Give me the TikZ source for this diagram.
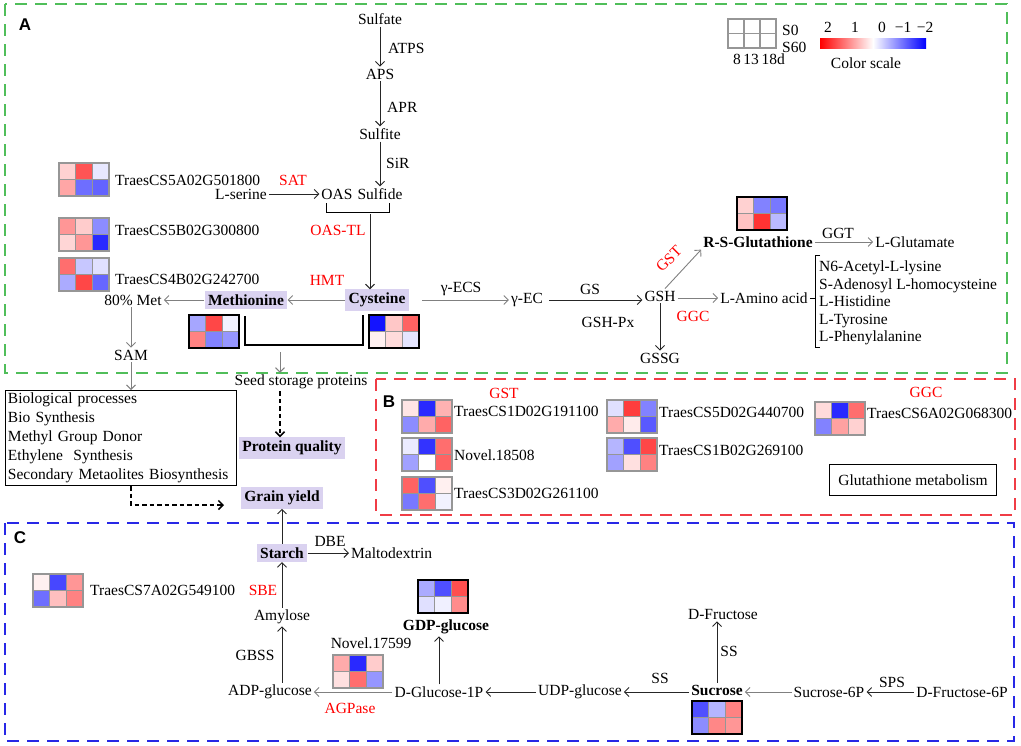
\documentclass[tikz,border=0pt]{standalone}
\usepackage{fontspec}
\setmainfont{Liberation Serif}
\newfontfamily\labfont{Liberation Sans}
\usetikzlibrary{arrows.meta}
\definecolor{lav}{RGB}{218,210,240}
\definecolor{gridc}{RGB}{150,150,150}
\definecolor{gzone}{RGB}{80,190,90}
\definecolor{rzone}{RGB}{240,60,70}
\definecolor{bzone}{RGB}{40,40,230}
\newcommand{\myfs}{\fontsize{15.5}{19}\selectfont}
\newcommand{\heatm}[9]{%
 \begin{scope}[shift={(#1,#2)}]
 \fill[#4] (0,0) rectangle (16.67,16.5);
 \fill[#5] (16.67,0) rectangle (33.33,16.5);
 \fill[#6] (33.33,0) rectangle (50,16.5);
 \fill[#7] (0,16.5) rectangle (16.67,33);
 \fill[#8] (16.67,16.5) rectangle (33.33,33);
 \fill[#9] (33.33,16.5) rectangle (50,33);
 \draw[gridc,line width=1.5pt] (16.67,0)--(16.67,33) (33.33,0)--(33.33,33) (0,16.5)--(50,16.5);
 \draw[#3] (0,0) rectangle (50,33);
 \end{scope}}
\tikzset{
 txt/.style={font=\myfs, inner sep=2pt},
 redtxt/.style={txt, text=red},
 boldtxt/.style={txt, font=\myfs\bfseries},
 lavbox/.style={boldtxt, fill=lav, inner sep=3.5pt},
 arr/.style={draw=black!85, line width=0.9pt, -{Straight Barb[length=4.5pt,width=9pt]}},
 garr/.style={arr, draw=black!50},
 darr/.style={arr, draw=black, line width=1.5pt, dash pattern=on 4.5pt off 3pt},
 thinhm/.style={draw=gridc, line width=1.6pt},
 thickhm/.style={draw=black, line width=2.6pt},
 zone/.style={line width=1.5pt, dash pattern=on 12pt off 8pt},
 panellab/.style={font=\labfont\bfseries\fontsize{17}{20}\selectfont},
}
\begin{document}
\begin{tikzpicture}[x=1pt,y=-1pt, every node/.style={txt}]
\useasboundingbox (0,0) rectangle (1021,745);
% zones
\draw[zone, gzone] (5,4) rectangle (1007,373);
\draw[zone, rzone] (376,379) rectangle (1015,515);
\draw[zone, bzone] (5,523) rectangle (1014,741);
\node[panellab] (labA) at (25,25) {A};
\node[panellab] (labB) at (389,402) {B};
\node[panellab] (labC) at (20,538) {C};

% legend
\draw[gridc,line width=1.2pt] (728,19) rectangle (776,48) (744,19)--(744,48) (760,19)--(760,48) (728,33.5)--(776,33.5);
\node[anchor=west] (s0) at (780,30) {S0};
\node[anchor=west] (s60) at (780,47) {S60};
\node (days) at (759,59) {8\,13\,18d};
\shade[left color=red, right color=blue, middle color=white] (820,38) rectangle (926,48);
\node (v2) at (828,27) {2};
\node (v1) at (855,27) {1};
\node (v0) at (882,27) {0};
\node (vm1) at (903,27) {−1};
\node (vm2) at (925,27) {−2};
\node (cscale) at (866,63) {Color scale};

% sulfur assimilation
\node (sulfate) at (380,19) {Sulfate};
\node (aps) at (380,74) {APS};
\node (sulfite) at (380,134) {Sulfite};
\node (sulfide) at (380,194) {Sulfide};
\node (oas) at (337,194) {OAS};
\node[anchor=west] (atps) at (386,48) {ATPS};
\node[anchor=west] (apr) at (385,107) {APR};
\node[anchor=west] (sir) at (384,163) {SiR};
\draw[arr] (sulfate) -- (aps);
\draw[arr] (aps) -- (sulfite);
\draw[arr] (sulfite) -- (sulfite |- sulfide.north);
\node (lser) at (241,194) {L-serine};
\node[redtxt] (sat) at (293,180) {SAT};
\draw[arr] (lser) -- (oas);
\draw[line width=1pt] (326,203) -- (326,212) -- (389,212) -- (389,203);
\coordinate (brk) at (370,214);
\node[redtxt] (oastl) at (338,230) {OAS-TL};
\node[redtxt] (hmt) at (327,280) {HMT};

\heatm{59}{163}{thinhm}{red!18}{red!67}{blue!9}{red!35}{blue!57}{blue!61}
\node[anchor=west] (g1) at (113,180) {TraesCS5A02G501800};
\heatm{59}{218}{thinhm}{red!41}{red!20}{blue!45}{red!16}{red!41}{blue!84}
\node[anchor=west] (g2) at (113,230) {TraesCS5B02G300800};
\heatm{59}{258}{thinhm}{red!57}{blue!22}{blue!12}{blue!33}{red!72}{blue!60}
\node[anchor=west] (g3) at (113,279) {TraesCS4B02G242700};

\node[lavbox] (cys) at (377,300) {Cysteine};
\node[lavbox] (met) at (246,300) {Methionine};
\node (met80) at (133,300) {80\% Met};
\draw[arr] (brk) -- (brk |- cys.north);
\draw[garr] (cys) -- (met);
\draw[garr] (met) -- (met80);
\heatm{189}{315}{thickhm}{blue!35}{red!72}{blue!5}{red!49}{blue!49}{blue!41}
\heatm{369}{315}{thickhm}{blue!92}{red!22}{red!61}{red!6}{red!14}{blue!10}
\draw[line width=1.2pt] (245,316) -- (245,345) -- (363,345) -- (363,315);
\coordinate (sbk) at (280,345);
\node (seed) at (301,382) {Seed storage proteins};
\draw[garr] ([yshift=-7pt]sbk) -- (sbk |- seed.north);
\node[lavbox] (pq) at (292,448) {Protein quality};
\draw[darr] (seed.south -| sbk) -- (pq.north -| sbk);
\node (sam) at (131,355) {SAM};
\draw[garr] (met80.south -| sam) -- (sam.north);
\node[draw, line width=1pt, anchor=north west, align=left, text width=226pt, inner sep=2.5pt] (bio) at (5,390) {Biological processes\\Bio Synthesis\\Methyl Group Donor\\Ethylene\ \ Synthesis\\Secondary Metaolites Biosynthesis};
\draw[garr] (sam) -- (sam |- bio.north);
\node[lavbox] (gy) at (282,498) {Grain yield};
\coordinate (gyin) at (224,505);
\draw[darr] (sam |- bio.south) |- (gyin);

% glutathione
\node (gec) at (527,300) {γ-EC};
\node (gecs) at (461,289) {γ-ECS};
\draw[garr, shorten <=13pt] (cys) -- (gec);
\node (gsh) at (660,296) {GSH};
\node (gs) at (590,289) {GS};
\node (gshpx) at (608,322) {GSH-Px};
\draw[arr, shorten <=4pt] (gec.east) -- (gec.east -| gsh.west);
\node (gssg) at (660,358) {GSSG};
\draw[arr] (gsh) -- (gssg);
\node[boldtxt] (rsg) at (758,242) {R-S-Glutathione};
\draw[garr] ([xshift=5pt]gsh.north) -- (rsg.south west);
\node[redtxt, rotate=45, inner sep=0pt] (gst) at (669,259) {GST};
\heatm{737}{197}{thickhm}{red!18}{blue!49}{blue!53}{red!24}{red!80}{blue!27}
\node (ggt) at (838,233) {GGT};
\node (lglu) at (915,242) {L-Glutamate};
\draw[garr] (rsg) -- (lglu);
\node (laa) at (764,298) {L-Amino acid};
\draw[garr] (gsh.east |- laa) -- (laa.west);
\node[redtxt] (ggc) at (693,316) {GGC};
\draw[line width=1pt] (820,255) -- (815,255) -- (815,347) -- (820,347);
\coordinate (brk2) at (815,298);
\draw[line width=1pt] (laa.east) -- (brk2);
\node[anchor=west, align=left, font=\fontsize{15.5}{17.5}\selectfont] (aalist) at (817,303) {N6-Acetyl-L-lysine\\S-Adenosyl L-homocysteine\\L-Histidine\\L-Tyrosine\\L-Phenylalanine};

% panel B
\node[redtxt] (gstb) at (504,393) {GST};
\node[redtxt] (ggcb) at (926,392) {GGC};
\heatm{402}{400}{thinhm}{red!10}{blue!84}{red!30}{blue!45}{red!33}{red!61}
\node[anchor=west] (b1) at (452,411) {TraesCS1D02G191100};
\heatm{402}{438}{thinhm}{blue!8}{blue!80}{red!57}{blue!37}{white}{red!61}
\node[anchor=west] (b2) at (452,455) {Novel.18508};
\heatm{402}{477}{thinhm}{red!61}{blue!69}{red!6}{blue!53}{red!57}{blue!5}
\node[anchor=west] (b3) at (452,493) {TraesCS3D02G261100};
\heatm{607}{400}{thinhm}{blue!12}{red!76}{blue!49}{red!33}{red!8}{blue!65}
\node[anchor=west] (b4) at (657,412) {TraesCS5D02G440700};
\heatm{607}{438}{thinhm}{blue!29}{blue!69}{red!72}{blue!37}{red!12}{red!49}
\node[anchor=west] (b5) at (657,450) {TraesCS1B02G269100};
\heatm{815}{402}{thinhm}{red!14}{blue!84}{red!57}{blue!49}{red!37}{red!18}
\node[anchor=west] (b6) at (865,413) {TraesCS6A02G068300};
\node[draw, line width=1pt, minimum width=167pt, minimum height=31pt] (gm) at (913,480) {Glutathione metabolism};

% panel C
\node[lavbox] (starch) at (282,553) {Starch};
\draw[arr] (starch) -- (gy);
\node (dbe) at (330,541) {DBE};
\node[anchor=west] (malto) at (349,553) {Maltodextrin};
\draw[arr] (starch) -- (malto);
\heatm{33}{574}{thinhm}{red!6}{blue!72}{red!41}{blue!57}{red!25}{red!49}
\node[anchor=west] (c1) at (88,590) {TraesCS7A02G549100};
\node[redtxt] (sbe) at (263,590) {SBE};
\node (amy) at (282,617) {Amylose};
\draw[arr] (amy) -- (starch);
\node (gbss) at (255,655) {GBSS};
\node (adp) at (270,692) {ADP-glucose};
\draw[arr] (adp.north -| amy) -- (amy);
\node (nov) at (371,643) {Novel.17599};
\heatm{333}{655}{thinhm}{red!33}{blue!84}{red!20}{red!12}{red!57}{blue!41}
\node (dglc) at (439,692) {D-Glucose-1P};
\draw[garr] (dglc) -- (adp);
\node[redtxt] (agp) at (350,708) {AGPase};
\node[boldtxt] (gdp) at (446,627) {GDP-glucose};
\heatm{418}{580}{thickhm}{blue!33}{blue!69}{red!69}{blue!12}{blue!6}{red!45}
\draw[arr] (dglc.north) -- (dglc.north |- gdp.south);
\node (udp) at (580,692) {UDP-glucose};
\draw[arr] (udp) -- (dglc);
\node[boldtxt] (suc) at (717,690) {Sucrose};
\draw[arr] (suc.west |- udp) -- (udp);
\node (ss1) at (660,678) {SS};
\heatm{692}{701}{thickhm}{blue!69}{blue!29}{red!49}{blue!45}{red!47}{red!41}
\node (dfru) at (723,614) {D-Fructose};
\draw[arr] (suc.north) -- (suc.north |- dfru.south);
\node (ss2) at (729,651) {SS};
\node (suc6p) at (829,692) {Sucrose-6P};
\draw[garr] (suc6p) -- (suc6p -| suc.east);
\node (sps) at (892,682) {SPS};
\node (f6p) at (962,692) {D-Fructose-6P};
\draw[arr] (f6p) -- (suc6p);
\end{tikzpicture}
\end{document}
